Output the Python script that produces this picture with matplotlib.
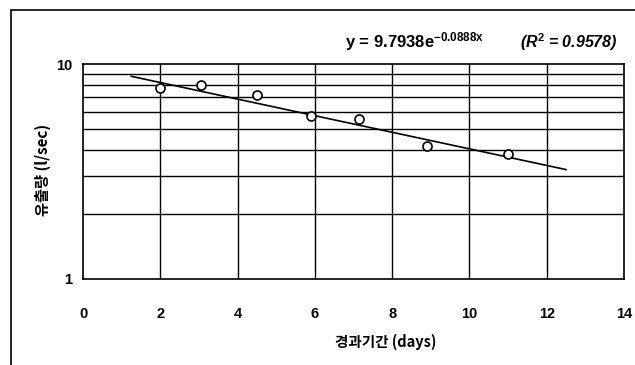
import numpy as np
import matplotlib
matplotlib.use("Agg")
import matplotlib.pyplot as plt
from matplotlib.patches import Rectangle

plt.rcParams["font.family"] = ["Liberation Sans", "Noto Sans CJK KR", "DejaVu Sans"]
plt.rcParams["font.weight"] = "bold"
plt.rcParams["mathtext.fontset"] = "custom"
plt.rcParams["mathtext.rm"] = "Liberation Sans:bold"
plt.rcParams["mathtext.it"] = "Liberation Sans:bold:italic"
plt.rcParams["mathtext.default"] = "rm"

# observed discharge
days = [2.0, 3.05, 4.5, 5.9, 7.13, 8.9, 11.0]
flow = [7.7, 8.0, 7.2, 5.75, 5.55, 4.15, 3.8]

# exponential trendline y = a * exp(b * x)
coef_a = 9.7938
coef_b = -0.0888
r2 = 0.9578
trend_range = [1.25, 12.5]

x_ticks = [0, 2, 4, 6, 8, 10, 12, 14]
x_label = "경과기간 (days)"
y_label = "유출량 (l/sec)"

fig = plt.figure(figsize=(6.35, 3.65), dpi=100)
ax = fig.add_axes([83 / 635, 1 - 279 / 365, (624 - 83) / 635, (279 - 64) / 365])

ax.set_yscale("log")
ax.set_xlim(0, 14)
ax.set_ylim(1, 10)

# grid lines (vertical every 2 days, horizontal at 2..9)
for xv in x_ticks[1:-1]:
    ax.axvline(xv, color="black", lw=1.0, zorder=1)
for yv in range(2, 10):
    ax.axhline(yv, color="black", lw=1.0, zorder=1)

xt = np.linspace(trend_range[0], trend_range[1], 50)
ax.plot(xt, coef_a * np.exp(coef_b * xt), color="black", lw=1.2, zorder=2)
ax.plot(days, flow, "o", ms=6.5, mfc="white", mec="black", mew=1.2, zorder=3)

ax.set_xticks(x_ticks)
ax.set_xticklabels([str(v) for v in x_ticks], fontsize=10.5, fontweight="bold")
ax.set_yticks([1, 10])
ax.set_yticklabels(["1", "10"], fontsize=10.5, fontweight="bold")
ax.yaxis.set_minor_locator(plt.NullLocator())
ax.tick_params(axis="x", length=0, pad=20)
ax.tick_params(axis="y", length=0, pad=8)
for sp in ax.spines.values():
    sp.set_linewidth(1.2)
    sp.set_color("black")

fig.text(386 / 635, 1 - 342 / 365, x_label, ha="center", va="center",
         fontsize=10.5, fontweight="bold", family=["Noto Sans CJK KR", "DejaVu Sans"])
fig.text(43 / 635, 1 - 170 / 365, y_label, ha="center", va="center", rotation=90,
         fontsize=11, fontweight="bold", family=["Noto Sans CJK KR", "DejaVu Sans"])

fig.text(345 / 635, 1 - 42 / 365,
         "y = %.4fe$^{%.4fx}$" % (coef_a, coef_b),
         ha="left", va="center", fontsize=12, fontweight="bold")
fig.text(520 / 635, 1 - 42 / 365, "(R$^2$ = %.4f)" % r2,
         ha="left", va="center", fontsize=11.5, fontweight="bold", style="italic")

# outer frame of the chart object
fig.add_artist(Rectangle((11 / 635, -0.2), 1.2, 1 - 10 / 365 + 0.2,
                         transform=fig.transFigure, fill=False,
                         edgecolor="black", lw=1.2))

fig.savefig("out.png", dpi=100)
